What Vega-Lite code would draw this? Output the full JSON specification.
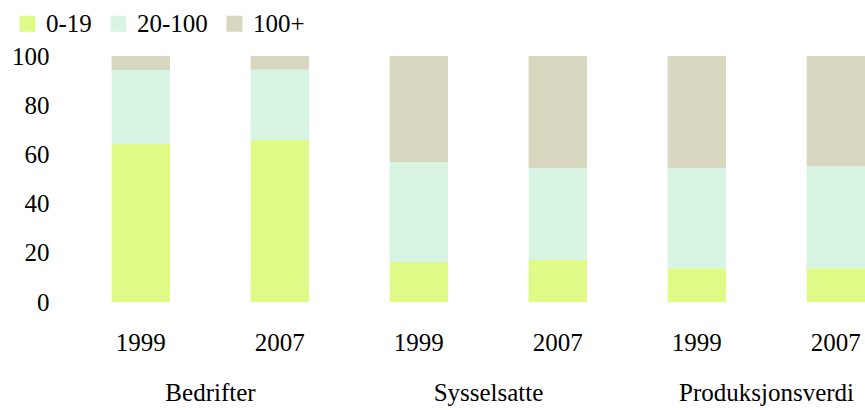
{
  "$schema": "https://vega.github.io/schema/vega-lite/v6.json",
  "autosize": {"type": "none"},
  "padding": {"left": 71, "top": 56, "right": 0, "bottom": 108},
  "width": 794,
  "height": 246,
  "background": "white",
  "config": {
    "font": "Liberation Serif",
    "view": {"stroke": null},
    "axis": {"labelFont": "Liberation Serif", "labelFontSize": 25, "labelColor": "#000000", "domain": false, "ticks": false, "tickSize": 0, "grid": false, "title": null},
    "legend": {"labelFont": "Liberation Serif", "labelFontSize": 25, "labelColor": "#000000"}
  },
  "data": {
    "values": [
      {"bar": "Bedrifter 1999", "group": "Bedrifter", "size": "0-19", "o": 0, "value": 64.2},
      {"bar": "Bedrifter 1999", "group": "Bedrifter", "size": "20-100", "o": 1, "value": 30.1},
      {"bar": "Bedrifter 1999", "group": "Bedrifter", "size": "100+", "o": 2, "value": 5.7},
      {"bar": "Bedrifter 2007", "group": "Bedrifter", "size": "0-19", "o": 0, "value": 65.9},
      {"bar": "Bedrifter 2007", "group": "Bedrifter", "size": "20-100", "o": 1, "value": 28.5},
      {"bar": "Bedrifter 2007", "group": "Bedrifter", "size": "100+", "o": 2, "value": 5.6},
      {"bar": "Sysselsatte 1999", "group": "Sysselsatte", "size": "0-19", "o": 0, "value": 16.3},
      {"bar": "Sysselsatte 1999", "group": "Sysselsatte", "size": "20-100", "o": 1, "value": 40.6},
      {"bar": "Sysselsatte 1999", "group": "Sysselsatte", "size": "100+", "o": 2, "value": 43.1},
      {"bar": "Sysselsatte 2007", "group": "Sysselsatte", "size": "0-19", "o": 0, "value": 17.1},
      {"bar": "Sysselsatte 2007", "group": "Sysselsatte", "size": "20-100", "o": 1, "value": 37.3},
      {"bar": "Sysselsatte 2007", "group": "Sysselsatte", "size": "100+", "o": 2, "value": 45.6},
      {"bar": "Produksjonsverdi 1999", "group": "Produksjonsverdi", "size": "0-19", "o": 0, "value": 13.7},
      {"bar": "Produksjonsverdi 1999", "group": "Produksjonsverdi", "size": "20-100", "o": 1, "value": 40.7},
      {"bar": "Produksjonsverdi 1999", "group": "Produksjonsverdi", "size": "100+", "o": 2, "value": 45.6},
      {"bar": "Produksjonsverdi 2007", "group": "Produksjonsverdi", "size": "0-19", "o": 0, "value": 13.7},
      {"bar": "Produksjonsverdi 2007", "group": "Produksjonsverdi", "size": "20-100", "o": 1, "value": 41.5},
      {"bar": "Produksjonsverdi 2007", "group": "Produksjonsverdi", "size": "100+", "o": 2, "value": 44.8}
    ]
  },
  "layer": [
    {
      "mark": {"type": "bar"},
      "encoding": {
        "x": {
          "field": "bar", "type": "nominal", "sort": null,
          "scale": {"paddingInner": 0.58, "paddingOuter": 0.146, "align": 1},
          "axis": {"labelExpr": "split(datum.value, ' ')[1]", "labelAngle": 0, "labelPadding": 28, "orient": "bottom"}
        },
        "y": {
          "field": "value", "type": "quantitative", "stack": "zero",
          "scale": {"domain": [0, 100]},
          "axis": {"values": [0, 20, 40, 60, 80, 100], "labelPadding": 22}
        },
        "color": {
          "field": "size", "type": "nominal",
          "scale": {"domain": ["0-19", "20-100", "100+"], "range": ["#dffa87", "#d8f5e3", "#d8d7bf"]},
          "legend": {
            "orient": "none", "direction": "horizontal", "legendX": -56, "legendY": -45,
            "title": null, "symbolType": "square", "symbolSize": 256, "symbolStrokeWidth": 0,
            "symbolOpacity": 1, "labelFontSize": 25, "labelFont": "Liberation Serif", "labelColor": "#000000",
            "labelOffset": 6, "columnPadding": 14, "padding": 0, "labelLimit": 300
          }
        },
        "order": {"field": "o", "type": "quantitative"}
      }
    },
    {
      "mark": {"type": "text", "text": " ", "font": "Liberation Serif"},
      "encoding": {
        "x": {
          "field": "group", "type": "nominal", "sort": null,
          "scale": {"type": "point", "padding": 0.428, "align": 0.584},
          "axis": {"orient": "bottom", "offset": 50, "labelPadding": 28, "labelAngle": 0}
        }
      }
    }
  ],
  "resolve": {"scale": {"x": "independent"}, "axis": {"x": "independent"}}
}
